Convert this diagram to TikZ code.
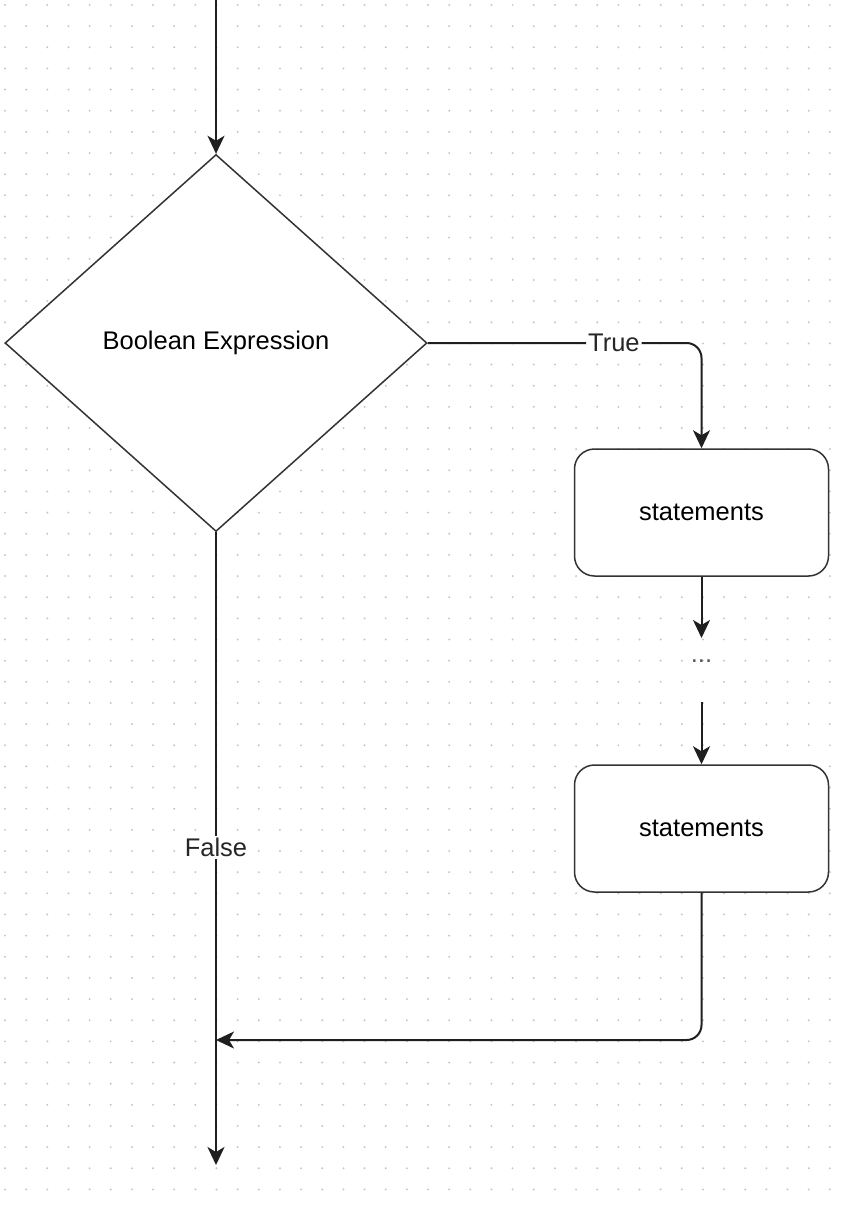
\documentclass[tikz,border=0pt]{standalone}
\usepackage{fontspec}
\setmainfont{Liberation Sans}
\usetikzlibrary{shapes.geometric,arrows.meta}
\begin{document}
\begin{tikzpicture}[x=1pt,y=-1pt,
  conn/.style={draw=black!88, line width=2pt, -{Stealth[length=18pt,width=17pt,inset=5pt]}},
  shapeline/.style={draw=black!80, line width=1.5pt, fill=white},
  decision/.style={shapeline, diamond, inner sep=0pt, minimum width=422pt, minimum height=377pt},
  stmtbox/.style={shapeline, rectangle, rounded corners=20pt, minimum width=254pt, minimum height=127pt},
  lab/.style={fill=white, inner sep=2pt, text=black!85},
  dotc/.style={fill=black!22},
  every node/.style={font=\fontsize{25.5}{30}\selectfont}
]
\useasboundingbox (0,0) rectangle (842,1206);
\fill[white] (0,0) rectangle (842,1206);
% grid dots
\foreach \i in {0,...,39}{
  \foreach \j in {0,...,56}{
    \fill[dotc] ({5+21.15*\i},{5+21.15*\j}) circle (1.1pt);
  }
}
% nodes
\node[decision] (dia) at (216,343) {Boolean Expression};
\node[stmtbox] (box1) at (701.5,512.5) {statements};
\node[stmtbox] (box2) at (701.5,828.5) {statements};
\node[text=black!65, inner sep=0pt] (dots) at (701.5,661) {...};
% coordinates
\coordinate (top) at (216,0);
\coordinate (d1) at (701.5,638);
\coordinate (d2) at (701.5,702);
\coordinate (bot) at (216,1165);
\coordinate (join) at (216,1040);
\coordinate (corner) at (701.5,1040);
% connectors
\draw[conn] (top) -- (dia.north);
\draw[conn, rounded corners=15pt] (dia.east) -- node[lab, pos=0.68] {True} (box1.north |- dia.east) -- (box1.north);
\draw[conn] (box1.south) -- (d1);
\draw[conn] (d2) -- (box2.north);
\draw[conn, rounded corners=15pt] (box2.south) -- (corner) -- (join);
\draw[conn] (dia.south) -- node[lab, pos=0.498] {False} (bot);
\end{tikzpicture}
\end{document}
